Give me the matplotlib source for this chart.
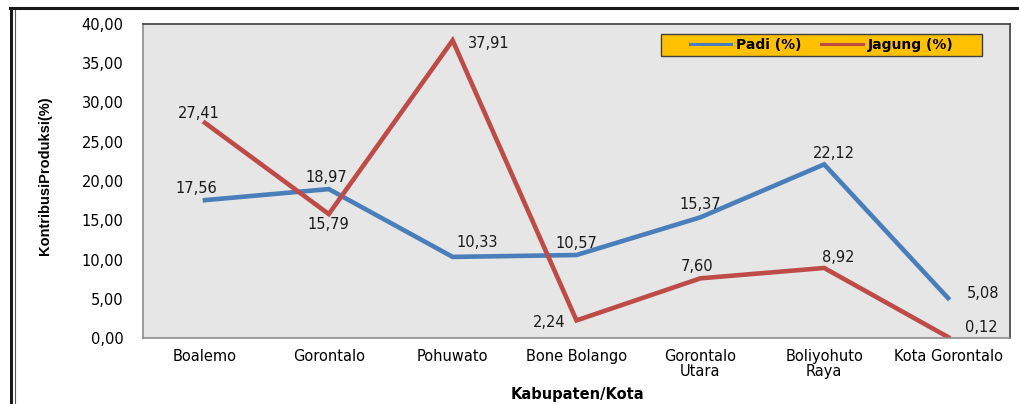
import matplotlib
matplotlib.use("Agg")
import matplotlib.pyplot as plt
from matplotlib.lines import Line2D
from matplotlib.patches import Rectangle
from matplotlib.ticker import FuncFormatter

# data
kabupaten = ["Boalemo", "Gorontalo", "Pohuwato", "Bone Bolango",
             "Gorontalo\nUtara", "Boliyohuto\nRaya", "Kota Gorontalo"]
padi = [17.56, 18.97, 10.33, 10.57, 15.37, 22.12, 5.08]
jagung = [27.41, 15.79, 37.91, 2.24, 7.60, 8.92, 0.12]
yticks = [0, 5, 10, 15, 20, 25, 30, 35, 40]

# label offsets in pixels (dx, dy)
padi_off = [(-9, 12), (-2, 12), (25, 14), (0, 12), (0, 13), (10, 11), (35, 5)]
jagung_off = [(-6, 9), (0, -10), (36, -3), (-27, -2), (-3, 12), (14, 10), (33, 10)]

BLUE = "#4A7EBB"
RED = "#BE4B48"
FONT = "DejaVu Sans"

plt.rcParams["font.family"] = FONT

fig = plt.figure(figsize=(10.19, 4.04), dpi=100)
fig.patch.set_facecolor("white")
ax = fig.add_axes([143 / 1019, 1 - 338 / 404, 867 / 1019, 314 / 404])
ax.set_facecolor("#E6E6E6")

x = list(range(len(kabupaten)))
ax.plot(x, padi, color=BLUE, lw=3.3, solid_joinstyle="miter", label="Padi (%)")
ax.plot(x, jagung, color=RED, lw=3.3, solid_joinstyle="miter", label="Jagung (%)")

px = 0.72  # points per pixel
for series, offs in ((padi, padi_off), (jagung, jagung_off)):
    for xi, v, (dx, dy) in zip(x, series, offs):
        ax.annotate(f"{v:.2f}".replace(".", ","), (xi, v), xytext=(dx * px, dy * px),
                    textcoords="offset points", ha="center", va="center",
                    fontsize=10.5, color="#1a1a1a")

ax.set_xlim(-0.5, len(kabupaten) - 0.5)
ax.set_ylim(0, 40)
ax.set_yticks(yticks)
ax.yaxis.set_major_formatter(FuncFormatter(lambda v, p: f"{v:.2f}".replace(".", ",")))
ax.set_xticks(x)
ax.set_xticklabels(kabupaten, fontsize=10.5, linespacing=0.95)
ax.tick_params(axis="y", length=0, pad=14, labelsize=10.5)
ax.tick_params(axis="x", length=0, pad=8)

for s in ["top", "right"]:
    ax.spines[s].set_color("#404040")
for s in ["left", "bottom"]:
    ax.spines[s].set_color("#8C8C8C")
for s in ax.spines.values():
    s.set_linewidth(1.2)

# yellow legend box
ax.add_patch(Rectangle((0.597, 0.898), 0.371, 0.070, transform=ax.transAxes,
                       facecolor="#FFC000", edgecolor="#404040", lw=1.0, zorder=4))
leg = ax.legend(loc="center", bbox_to_anchor=(0.597 + 0.371 / 2, 0.933),
                ncol=2, frameon=False, fontsize=10, handlelength=3.0,
                handletextpad=0.35, columnspacing=1.4, borderaxespad=0)
leg.set_zorder(5)
for t in leg.get_texts():
    t.set_fontweight("bold")
for h in leg.get_lines():
    h.set_linewidth(2.2)

fig.text(45 / 1019, 1 - 176 / 404, "KontribusiProduksi(%)", rotation=90,
         ha="center", va="center", fontsize=10.5, fontweight="bold",
         family=["Liberation Sans", FONT])
fig.text(577 / 1019, 1 - 395 / 404, "Kabupaten/Kota", ha="center", va="center",
         fontsize=10.5, fontweight="bold")

# outer frame lines (top and double left edge)
fig.add_artist(Line2D([10 / 1019, 1.0], [1 - 8 / 404] * 2, color="#1a1a1a", lw=2.2))
fig.add_artist(Line2D([11 / 1019] * 2, [0, 1 - 8 / 404], color="#1a1a1a", lw=2.2))
fig.add_artist(Line2D([14.5 / 1019] * 2, [0, 1 - 10 / 404], color="#555555", lw=0.8))

fig.savefig("out.png", dpi=100, facecolor="white")
